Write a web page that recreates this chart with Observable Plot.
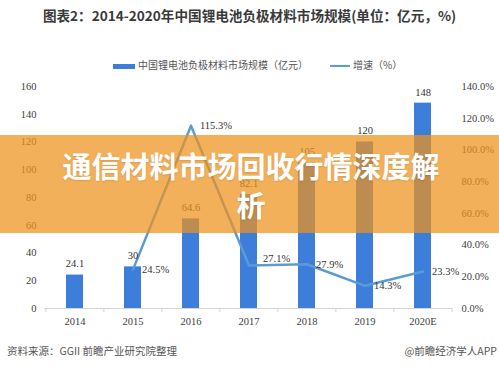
<!DOCTYPE html>
<html><head><meta charset="utf-8">
<script src="https://cdn.jsdelivr.net/npm/d3@7"></script>
<script src="https://cdn.jsdelivr.net/npm/@observablehq/plot@0.6"></script>
<style>
body{margin:0;background:#fff;}
#wrap{position:relative;width:499px;height:369px;overflow:hidden;background:#fff;font-family:"Noto Sans CJK SC","Noto Sans",sans-serif;}
#title{position:absolute;left:0;top:5px;width:499px;text-align:center;font-size:13.6px;font-weight:bold;color:#3a3a3a;line-height:20px;}
#legend{position:absolute;left:0;top:57px;width:499px;height:16px;font-size:10px;color:#555;}
.lg{position:absolute;top:0;line-height:16px;white-space:nowrap;}
.sw{display:inline-block;vertical-align:middle;margin-right:3px;}
#chart{position:absolute;left:0;top:70px;}
#src{position:absolute;left:7px;top:343px;font-size:10.5px;color:#555;white-space:nowrap;}
#app{position:absolute;right:2px;top:343px;font-size:10.5px;color:#555;white-space:nowrap;}
#band{position:absolute;left:0;top:135px;width:499px;height:98px;background:rgba(238,146,28,0.72);}
#bandtext{position:absolute;left:55px;top:146px;width:392px;text-align:center;font-size:29px;line-height:39px;font-weight:bold;color:#fff;text-shadow:0 1px 2px rgba(0,0,0,0.12);font-family:"Noto Sans CJK SC",sans-serif;}
</style></head>
<body>
<div id="wrap">
  <div id="title"></div>
  <div id="legend"></div>
  <div id="chart"></div>
  <div id="src"></div>
  <div id="app"></div>
  <div id="band"></div>
  <div id="bandtext"></div>
</div>
<script>
const titleText = "图表2：2014-2020年中国锂电池负极材料市场规模(单位：亿元，%)";
const barSeriesName = "中国锂电池负极材料市场规模（亿元）";
const lineSeriesName = "增速（%）";
const sourceText = "资料来源：GGII 前瞻产业研究院整理";
const appText = "@前瞻经济学人APP";
const overlayText = "通信材料市场回收行情深度解析";

const years = ["2014","2015","2016","2017","2018","2019","2020E"];
const marketSize = [24.1, 30, 64.6, 82.1, 105, 120, 148];
const growthYears = ["2015","2016","2017","2018","2019","2020E"];
const growthRate = [24.5, 115.3, 27.1, 27.9, 14.3, 23.3];
const leftTicks = [0,20,40,60,80,100,120,140,160];
const rightTicks = [0,20,40,60,80,100,120,140];

const barColor = "#3d7edb";
const lineColor = "#5b9bd5";
const k = 160/140; // right axis (%) mapped onto left axis units

document.getElementById("title").textContent = titleText;
document.getElementById("src").textContent = sourceText;
document.getElementById("app").textContent = appText;
document.getElementById("bandtext").textContent = overlayText;
document.getElementById("legend").innerHTML =
  `<div class="lg" style="left:113px"><span class="sw" style="width:22px;height:5px;background:${barColor}"></span>${barSeriesName}</div>` +
  `<div class="lg" style="left:330px"><span class="sw" style="width:20px;height:2px;background:${lineColor}"></span>${lineSeriesName}</div>`;

const bars = years.map((y,i)=>({year:y, value:marketSize[i]}));
const growth = growthYears.map((y,i)=>({year:y, g:growthRate[i]}));
const raised = growth.filter(d => d.year === "2017");
const normal = growth.filter(d => d.year !== "2017");

const W = 499, ML = 44, MR = 47;
const step = (W - ML - MR) / years.length;

const chart = Plot.plot({
  width: W, height: 265,
  marginTop: 16, marginBottom: 27, marginLeft: ML, marginRight: MR,
  style: {fontFamily: "'Liberation Serif','Times New Roman',serif", fontSize: "10.5px", color: "#404040", background: "transparent"},
  x: {domain: years, paddingInner: 0.71, paddingOuter: 0.355, label: null},
  y: {domain: [0,160], label: null},
  marks: [
    Plot.axisY({ticks: leftTicks, tickSize: 0, tickPadding: 8, label: null}),
    Plot.axisY({anchor: "right", ticks: rightTicks.map(v=>v*k), tickFormat: d => (d/k).toFixed(1) + "%", tickSize: 0, tickPadding: 9, label: null}),
    Plot.axisX({tickSize: 0, tickPadding: 9, label: null}),
    Plot.barY(bars, {x: "year", y: "value", fill: barColor}),
    Plot.ruleY([0], {stroke: "#d4d4d4"}),
    Plot.ruleX(years, {x: d=>d, dx: -step/2, y1: 0, y2: -3, stroke: "#d4d4d4"}),
    Plot.ruleX([years[years.length-1]], {x: d=>d, dx: step/2, y1: 0, y2: -3, stroke: "#d4d4d4"}),
    Plot.lineY(growth, {x: "year", y: d => d.g*k, stroke: lineColor, strokeWidth: 2.5}),
    Plot.text(bars, {x: "year", y: "value", text: d => String(d.value), dy: -11, fill: "#333", fontSize: 10.5}),
    Plot.text(normal, {x: "year", y: d => d.g*k, text: d => d.g.toFixed(1) + "%", textAnchor: "start", dx: 9, fill: "#333", fontSize: 10.5}),
    Plot.text(raised, {x: "year", y: d => d.g*k, text: d => d.g.toFixed(1) + "%", textAnchor: "start", dx: 14, dy: -7, fill: "#333", fontSize: 10.5})
  ]
});
document.getElementById("chart").appendChild(chart);
</script>
</body></html>
